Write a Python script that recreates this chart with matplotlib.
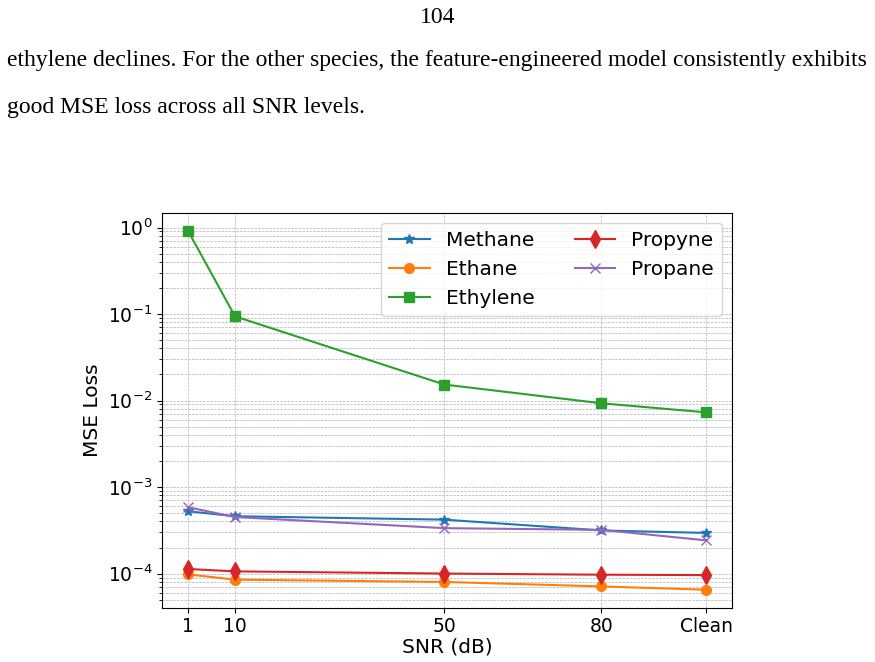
import matplotlib.pyplot as plt
import numpy as np

# SNR levels (Clean drawn at 100)
snr = [1, 10, 50, 80, 100]
snr_labels = ['1', '10', '50', '80', 'Clean']

methane = [5.25e-4, 4.6e-4, 4.2e-4, 3.15e-4, 2.95e-4]
ethane = [9.8e-5, 8.5e-5, 8.0e-5, 7.1e-5, 6.5e-5]
ethylene = [0.92, 0.094, 0.0153, 0.0093, 0.0073]
propyne = [1.13e-4, 1.06e-4, 1.0e-4, 9.7e-5, 9.6e-5]
propane = [5.85e-4, 4.5e-4, 3.35e-4, 3.2e-4, 2.42e-4]

page_no = '104'
line1 = 'ethylene declines. For the other species, the feature-engineered model consistently exhibits'
line2 = 'good MSE loss across all SNR levels.'

fig = plt.figure(figsize=(8.75, 6.62), dpi=100)

# page text around the figure
serif = ['Liberation Serif', 'DejaVu Serif']
fig.text(0.5, 1 - 23.3 / 662, page_no, ha='center', va='baseline', family=serif, fontsize=17)
fig.text(7 / 875, 1 - 66 / 662, line1, ha='left', va='baseline', family=serif, fontsize=17)
fig.text(7 / 875, 1 - 112.7 / 662, line2, ha='left', va='baseline', family=serif, fontsize=17)

ax = fig.add_axes([162 / 875, 1 - 607.7 / 662, (732 - 162) / 875, (607.7 - 212.7) / 662])

ax.plot(snr, methane, marker='*', markersize=7.5, label='Methane')
ax.plot(snr, ethane, marker='o', markersize=7, label='Ethane')
ax.plot(snr, ethylene, marker='s', markersize=7, label='Ethylene')
ax.plot(snr, propyne, marker='d', markersize=9, label='Propyne')
ax.plot(snr, propane, marker='x', markersize=7, label='Propane')

ax.set_yscale('log')
ax.set_xticks(snr)
ax.set_xticklabels(snr_labels)
ax.tick_params(labelsize=13.5)
ax.set_xlabel('SNR (dB)', fontsize=14.5, labelpad=1)
ax.set_ylabel('MSE Loss', fontsize=14.5)
ax.grid(True, which='both', linestyle='--', linewidth=0.5)
ax.legend(ncol=2, fontsize=14.5, loc='upper right')

fig.savefig('out.png', dpi=100)
